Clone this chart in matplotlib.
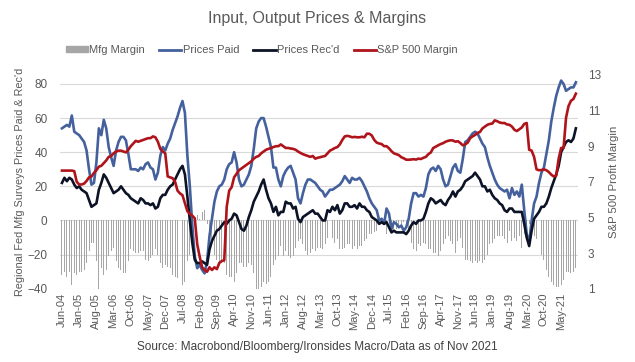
"""Input, Output Prices & Margins: regional Fed mfg surveys vs S&P 500 margin.

Writes out.png
"""

import matplotlib
matplotlib.use("Agg")
import matplotlib.pyplot as plt
import numpy as np
from matplotlib.patches import Patch
from matplotlib.lines import Line2D

# monthly, Jun-04 .. Nov-21
prices_paid = [
    54, 55, 56, 55, 61.5, 52, 51, 50, 48, 46, 41, 30, 21, 22, 34, 54, 50, 59, 54, 43,
    37, 32, 41, 46, 49, 49, 47, 39, 30, 30, 30, 29, 31, 30, 33, 34, 31, 30, 24, 28,
    38, 43, 41, 45, 48, 53, 57, 61, 66, 70, 63, 38, 20, -3, -21, -28, -26, -29, -31, -24,
    -9, 1, 11, 17, 20, 21, 24, 30, 33, 34, 40, 34, 24, 20, 21, 24, 27, 32, 42, 54,
    58, 60, 60, 55, 49, 43, 31, 31, 24, 20, 26, 29, 31, 32, 28, 24, 13, 10, 16, 21,
    24, 24, 23, 22, 20, 18, 17, 14, 16, 18, 18, 19, 20, 21, 23, 26, 24, 22, 25, 24,
    24, 25, 23, 20, 17, 13, 10, 8, 6, 0, 1, -2, 7, 4, -5, -1, -2, -4, -3, -6,
    -4, 1, 10, 16, 16, 14, 15, 14, 19, 27, 30, 31, 29, 32, 30, 24, 20, 21, 26, 31,
    33, 29, 28, 36, 46, 47, 49, 51, 52, 51, 48, 45, 43, 37, 32, 28, 24, 21, 19, 18,
    17, 18, 13, 19, 15, 17, 14, 21, 6, -8, -13, 0, 10, 14, 22, 28, 31, 39, 47, 58,
    66, 73, 78, 82, 80, 76, 77, 78, 78, 81,
]
prices_recd = [
    22, 25, 23, 25, 24, 21, 19, 20, 18, 17, 16, 12, 8, 9, 10, 18, 22, 27, 25, 22,
    19, 16, 17, 18, 20, 18, 16, 15, 13, 12, 11, 10, 13, 12, 10, 10, 9, 10, 7, 8,
    13, 15, 15, 18, 20, 21, 24, 27, 30, 32, 27, 14, 0, -13, -23, -25, -25, -24, -25, -26,
    -17, -12, -9, -6, -5, -3, -1, -2, 0, 1, 4, 3, -1, -5, -6, -3, 2, 6, 11, 14,
    17, 21, 24, 18, 13, 10, 5, 8, 3, 5, 5, 11, 10, 10, 7, 8, 1, -1, 2, 3,
    4, 5, 6, 4, 4, 2, 0, 0, 6, 5, 8, 6, 9, 4, 6, 10, 10, 8, 8, 9,
    7, 10, 8, 8, 6, 5, 2, 1, 0, -2, -1, -2, -1, -4, -7, -6, -7, -7, -7, -7,
    -8, -6, -3, -1, -2, 0, 0, 1, 5, 10, 13, 12, 10, 11, 12, 10, 9, 12, 14, 17,
    14, 17, 18, 20, 23, 24, 25, 26, 28, 26, 24, 20, 20, 17, 18, 15, 13, 12, 10, 9,
    6, 5, 7, 7, 5, 5, 5, 5, -2, -10, -15, -6, 1, 3, 5, 8, 8, 10, 14, 19,
    23, 27, 32, 40, 43, 46, 47, 46, 48, 54,
]
mfg_margin = [
    -32, -30, -33, -30, -38, -31, -32, -30, -30, -29, -25, -18, -13, -13, -24, -40, -28, -32, -29, -21,
    -18, -16, -24, -28, -29, -31, -31, -24, -17, -18, -19, -19, -18, -18, -23, -24, -22, -20, -17, -20,
    -25, -28, -26, -27, -28, -32, -33, -34, -36, -38, -36, -24, -20, -10, -2, 3, 1, 5, 6, -2,
    -8, -13, -20, -23, -25, -24, -25, -32, -33, -33, -36, -31, -25, -25, -27, -27, -25, -26, -31, -40,
    -41, -39, -36, -37, -36, -33, -26, -23, -21, -15, -21, -18, -21, -22, -21, -16, -12, -11, -14, -18,
    -20, -19, -17, -18, -16, -16, -17, -14, -10, -13, -10, -13, -11, -17, -17, -16, -14, -14, -17, -15,
    -17, -15, -15, -12, -11, -8, -8, -7, -6, -2, -2, 0, -8, -8, -2, -5, -5, -3, -4, -1,
    -4, -7, -13, -17, -18, -14, -15, -13, -14, -17, -17, -19, -19, -21, -18, -14, -11, -9, -12, -14,
    -19, -12, -10, -16, -23, -23, -24, -25, -24, -25, -24, -25, -23, -20, -14, -13, -11, -9, -9, -9,
    -11, -13, -6, -12, -10, -12, -9, -16, -8, -2, -2, -6, -9, -11, -17, -20, -23, -29, -33, -36,
    -38, -39, -39, -38, -35, -30, -30, -31, -30, -28,
]
sp500_margin = [
    7.63, 7.63, 7.63, 7.63, 7.63, 7.6, 7.0, 6.85, 6.85, 6.9, 7.05, 7.25, 7.3, 7.5, 7.65, 7.85, 7.9, 8.05, 8.2, 8.4,
    8.45, 8.6, 8.7, 8.75, 8.75, 8.7, 8.65, 8.8, 9.0, 9.15, 9.3, 9.25, 9.3, 9.35, 9.4, 9.45, 9.45, 9.55, 9.5, 9.25,
    8.85, 8.7, 8.6, 7.3, 7.25, 7.2, 7.0, 6.5, 6.35, 6.25, 5.8, 5.35, 5.2, 5.1, 4.95, 3.5, 2.8, 2.2, 2.05, 1.95,
    2.2, 2.05, 2.2, 2.1, 2.45, 2.55, 2.6, 5.6, 6.5, 6.7, 7.25, 7.45, 7.65, 7.75, 7.85, 7.95, 8.05, 8.15, 8.3, 8.4,
    8.45, 8.6, 8.7, 8.8, 8.85, 8.9, 8.95, 9.0, 9.0, 9.1, 9.0, 8.9, 8.9, 8.87, 8.85, 8.8, 8.7, 8.62, 8.55, 8.5,
    8.45, 8.4, 8.45, 8.3, 8.35, 8.38, 8.42, 8.45, 8.6, 8.75, 8.82, 8.9, 8.95, 9.1, 9.35, 9.55, 9.58, 9.55, 9.5, 9.52,
    9.5, 9.5, 9.53, 9.5, 9.7, 9.7, 9.6, 9.35, 9.2, 9.15, 9.12, 9.0, 9.0, 8.88, 8.72, 8.6, 8.55, 8.5, 8.38, 8.32,
    8.24, 8.24, 8.25, 8.27, 8.25, 8.3, 8.28, 8.35, 8.4, 8.55, 8.65, 8.9, 8.97, 9.05, 9.12, 9.17, 9.25, 9.3, 9.33, 9.32,
    9.25, 9.28, 9.18, 9.05, 9.1, 9.2, 9.45, 9.55, 9.63, 9.74, 9.8, 10.0, 10.1, 10.2, 10.25, 10.27, 10.45, 10.4, 10.33, 10.3,
    10.3, 10.22, 10.2, 10.1, 9.92, 9.85, 9.95, 10.05, 10.25, 10.3, 8.8, 8.75, 8.4, 7.7, 7.65, 7.66, 7.7, 7.65, 7.55, 7.4,
    7.3, 7.35, 8.3, 8.9, 8.9, 10.6, 11.25, 11.55, 11.65, 11.95,
]
tick_labels = [
    "Jun-04", "Jan-05", "Aug-05", "Mar-06", "Oct-06", "May-07", "Dec-07", "Jul-08",
    "Feb-09", "Sep-09", "Apr-10", "Nov-10", "Jun-11", "Jan-12", "Aug-12", "Mar-13",
    "Oct-13", "May-14", "Dec-14", "Jul-15", "Feb-16", "Sep-16", "Apr-17", "Nov-17",
    "Jun-18", "Jan-19", "Aug-19", "Mar-20", "Oct-20", "May-21",
]

GREY_TXT = "#595959"
C_BAR = "#a6a6a6"
C_PAID = "#44619d"
C_RECD = "#0d1326"
C_SPX = "#b0141b"

plt.rcParams["font.family"] = ["Liberation Sans", "DejaVu Sans"]

x = np.arange(len(prices_paid))

fig = plt.figure(figsize=(6.35, 3.62), dpi=100)
ax = fig.add_axes([0.0945, 0.2025, 0.8155, 0.5905])
ax2 = ax.twinx()

ax.bar(x, mfg_margin, width=0.4, color=C_BAR, zorder=2)
ax.plot(x, prices_paid, color=C_PAID, lw=1.9, zorder=3)
ax.plot(x, prices_recd, color=C_RECD, lw=1.9, zorder=4)
ax2.plot(x, sp500_margin, color=C_SPX, lw=1.9)

ax.set_ylim(-40, 85.3)
ax.set_yticks(np.arange(-40, 81, 20))
ax2.set_ylim(1, 13)
ax2.set_yticks(np.arange(1, 14, 2))
ax.set_xlim(-0.8, len(x) - 0.2)
ax.set_xticks(np.arange(0, len(x), 7)[:len(tick_labels)])
ax.set_xticklabels(tick_labels, rotation=90)

ax.grid(axis="y", color="#d9d9d9", lw=0.8, zorder=0)
ax.set_axisbelow(True)
for a in (ax, ax2):
    for s in a.spines.values():
        s.set_visible(False)
    a.tick_params(length=0, colors=GREY_TXT, labelsize=8.5)
ax.tick_params(axis="x", labelsize=8, pad=3)
ax.tick_params(axis="y", pad=9)
ax2.tick_params(axis="y", pad=7)

ax.set_ylabel("Regional Fed Mfg Surveys Prices Paid & Rec'd", color=GREY_TXT,
              fontsize=7.8)
ax.yaxis.set_label_coords(-0.068, 0.5)
ax2.set_ylabel("S&P 500 Profit Margin", color=GREY_TXT, fontsize=8.2)
ax2.yaxis.set_label_coords(1.061, 0.5)

fig.text(0.5, 0.95, "Input, Output Prices & Margins", ha="center", va="center",
         fontsize=11.5, color=GREY_TXT)
handles = [
    Patch(color=C_BAR, label="Mfg Margin"),
    Line2D([], [], color=C_PAID, lw=2, label="Prices Paid"),
    Line2D([], [], color=C_RECD, lw=2, label="Prices Rec'd"),
    Line2D([], [], color=C_SPX, lw=2, label="S&P 500 Margin"),
]
fig.legend(handles=handles, loc="center", bbox_to_anchor=(0.412, 0.862), ncol=4,
           frameon=False, fontsize=8, handlelength=2.0, handleheight=0.35,
           handletextpad=0.1, columnspacing=1.3, labelcolor=GREY_TXT)
fig.text(0.5, 0.041, "Source: Macrobond/Bloomberg/Ironsides Macro/Data as of Nov 2021",
         ha="center", va="center", fontsize=8.5, color="#404040")

fig.savefig("out.png", dpi=100)
plt.close(fig)
